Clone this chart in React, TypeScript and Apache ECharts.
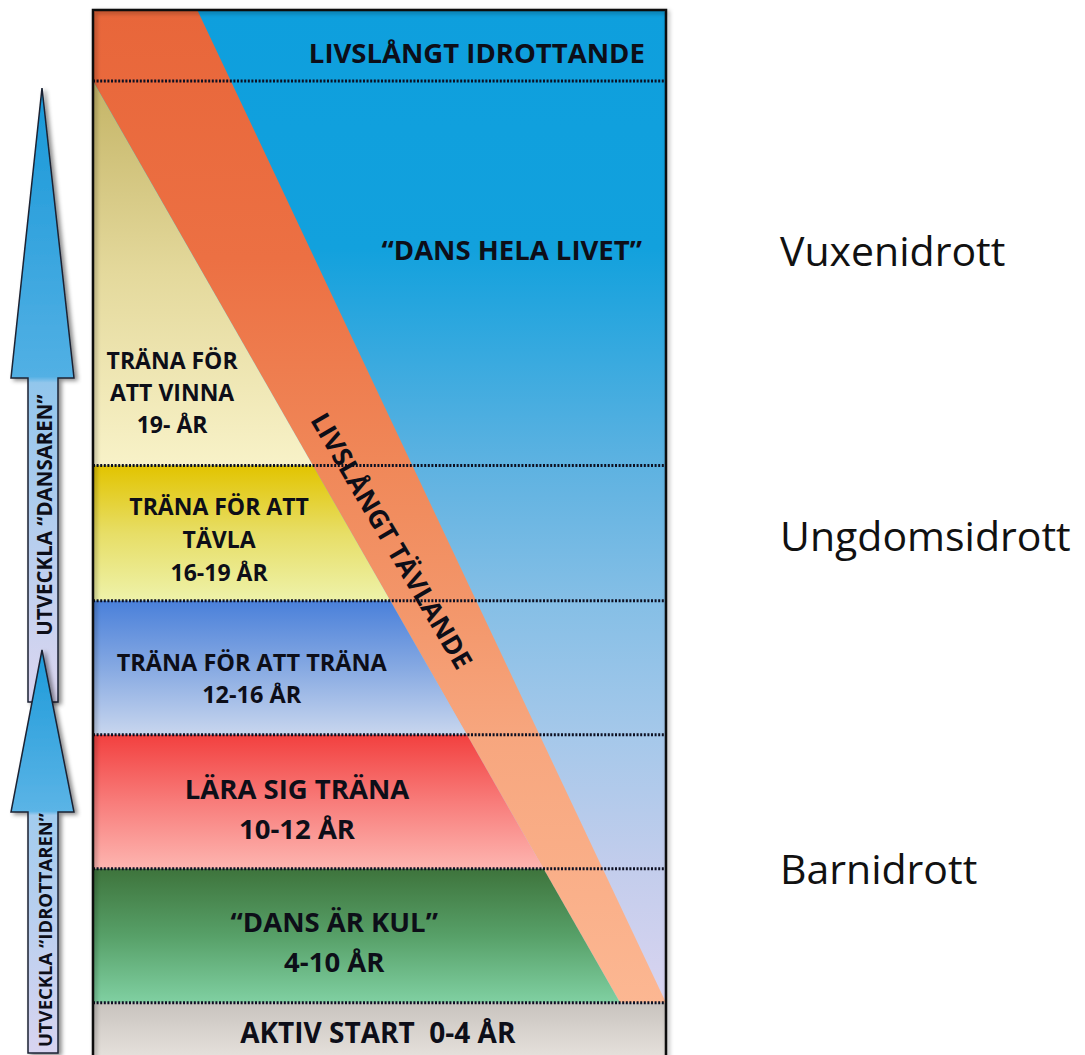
import React, { useEffect, useRef } from "react";
import * as echarts from "echarts";

// ---- Data (top → bottom) ----
const rowBounds = [0, 0.53, 3.4, 4.41, 5.41, 6.41, 7.41, 7.84]; // stage row boundaries (row units)
const stageTitles = ["TRÄNA FÖR\nATT VINNA", "TRÄNA FÖR ATT\nTÄVLA", "TRÄNA FÖR ATT TRÄNA", "LÄRA SIG TRÄNA", "“DANS ÄR KUL”", "AKTIV START\u00a0"];
const stageAges = ["19- ÅR", "16-19 ÅR", "12-16 ÅR", "10-12 ÅR", "4-10 ÅR", "0-4 ÅR"];
const topTitle = "LIVSLÅNGT IDROTTANDE";
const lifeTitle = "“DANS HELA LIVET”";
const bandTitle = "LIVSLÅNGT TÄVLANDE";
// band (percent of width): x at top right, x at bottom left / right
const bandTopRightX = 18.2;
const bandBottomLeftX = 92;
const bandBottomRightX = 100;
const groupLabels = ["Vuxenidrott", "Ungdomsidrott", "Barnidrott"];
const arrowLabels = ["UTVECKLA “DANSAREN”", "UTVECKLA “IDROTTAREN”"];

// ---- Styles / layout ----
const FONT = "'Open Sans', 'Noto Sans', sans-serif";
const TXT = "#0d0e18";
const stageGradients = [
  ["#c4b466", "#e4d99c", "#f8f2c8"],
  ["#e2c400", "#e7de66", "#eef2aa"],
  ["#4a80da", "#86a9e2", "#c8d6ee"],
  ["#f2403f", "#f87c7a", "#fdb5b0"],
  ["#3e743c", "#57a068", "#80d0a2"],
  ["#c8c3be", "#d8d3ce", "#e6e2dd"],
];
const stageLabelAnchor = [[13.8, 2.85], [22.0, 3.95], [27.7, 4.985], [35.6, 5.96], [42.1, 6.955], [49.7, 7.63]];
const stageFontSize = [23, 23, 23.5, 27.5, 27.5, 28];
const stageLineHeight = [32, 33, 32, 40, 40, 40];

const grad = (stops: string[]) =>
  new echarts.graphic.LinearGradient(0, 0, 0, 1, stops.map((c, i) => ({ offset: i / (stops.length - 1), color: c })));

function renderItem(_params: any, api: any) {
  const P = (x: number, y: number) => api.coord([x, y]);
  const yStart = rowBounds[1];
  const yEnd = rowBounds[6];
  const xl = (y: number) => (bandBottomLeftX * (y - yStart)) / (yEnd - yStart);
  const children: any[] = [];

  // background (blue, lifelong)
  children.push({
    type: "polygon",
    shape: { points: [P(0, 0), P(100, 0), P(100, yEnd), P(0, yEnd)] },
    style: {
      fill: new echarts.graphic.LinearGradient(0, 0, 0, 1, [
        { offset: 0, color: "#0e9fdd" },
        { offset: 0.24, color: "#12a1dd" },
        { offset: 0.46, color: "#5eb2e1" },
        { offset: 0.6, color: "#86bfe6" },
        { offset: 0.73, color: "#a5c8ea" },
        { offset: 0.865, color: "#c3cdec" },
        { offset: 1, color: "#d9d4f0" },
      ]),
    },
  });
  // diagonal band
  children.push({
    type: "polygon",
    shape: { points: [P(0, 0), P(bandTopRightX, 0), P(bandBottomRightX, yEnd), P(bandBottomLeftX, yEnd), P(0, yStart)] },
    style: {
      fill: new echarts.graphic.LinearGradient(0, 0, 0, 1, [
        { offset: 0, color: "#e8663a" },
        { offset: 0.25, color: "#ec7043" },
        { offset: 0.46, color: "#f08859" },
        { offset: 0.6, color: "#f3966a" },
        { offset: 0.73, color: "#f7a67e" },
        { offset: 1, color: "#fcb792" },
      ]),
    },
  });
  // stage shapes
  for (let i = 0; i < 5; i++) {
    const y0 = rowBounds[i + 1];
    const y1 = rowBounds[i + 2];
    children.push({
      type: "polygon",
      shape: { points: [P(0, y0), P(xl(y0), y0), P(xl(y1), y1), P(0, y1)] },
      style: { fill: grad(stageGradients[i]) },
    });
  }
  // bottom row
  children.push({
    type: "polygon",
    shape: { points: [P(0, rowBounds[6]), P(100, rowBounds[6]), P(100, rowBounds[7]), P(0, rowBounds[7])] },
    style: { fill: grad(stageGradients[5]) },
  });
  // dotted separators
  for (let i = 1; i <= 6; i++) {
    const a = P(0, rowBounds[i]);
    const b = P(100, rowBounds[i]);
    children.push({
      type: "line",
      shape: { x1: a[0], y1: a[1], x2: b[0], y2: b[1] },
      style: { stroke: "#0c0f22", lineWidth: 3, lineDash: [2, 1.6] },
    });
  }
  // border
  const tl = P(0, 0);
  const br = P(100, rowBounds[7]);
  children.push({
    type: "rect",
    shape: { x: tl[0], y: tl[1], width: br[0] - tl[0], height: br[1] - tl[1] + 6 },
    style: { fill: "none", stroke: "#111", lineWidth: 2.5, shadowColor: "rgba(0,0,0,0.35)", shadowBlur: 4, shadowOffsetX: 2, shadowOffsetY: 2 },
  });

  const text = (str: string, p: number[], size: number, align: string, lh: number, rot = 0) => ({
    type: "text",
    x: p[0],
    y: p[1],
    rotation: rot,
    style: {
      text: str,
      fill: TXT,
      fontFamily: FONT,
      fontWeight: "bold",
      fontSize: size,
      lineHeight: lh,
      align,
      textAlign: align,
      verticalAlign: "middle",
      textVerticalAlign: "middle",
    },
  });

  children.push(text(topTitle, P(96.3, 0.32), 27.5, "right", 30));
  children.push(text(lifeTitle, P(95.8, 1.79), 27.5, "right", 30));
  for (let i = 0; i < 6; i++) {
    const s = i < 5 ? stageTitles[i] + "\n" + stageAges[i] : stageTitles[i] + " " + stageAges[i];
    const [ax, ay] = stageLabelAnchor[i];
    children.push(text(s, P(ax, ay), stageFontSize[i], "center", stageLineHeight[i]));
  }
  children.push(text(bandTitle, P(52.2, 3.96), 26.5, "center", 30, -1.04));

  return { type: "group", children };
}

function arrow(tipY: number, baseY: number, endY: number, headFrac: number, stops: string[]) {
  const cx = 42;
  return {
    type: "polygon",
    silent: true,
    shape: {
      points: [
        [cx, tipY], [cx + 32, baseY], [cx + 16, baseY], [cx + 16, endY],
        [cx - 14, endY], [cx - 14, baseY], [cx - 31, baseY],
      ],
    },
    style: {
      fill: new echarts.graphic.LinearGradient(0, 0, 0, 1, [
        { offset: 0, color: stops[0] },
        { offset: headFrac, color: stops[1] },
        { offset: headFrac + 0.01, color: stops[2] },
        { offset: 1, color: stops[3] },
      ]),
      stroke: "#1b2233",
      lineWidth: 1.5,
      shadowColor: "rgba(0,0,0,0.45)",
      shadowBlur: 4,
      shadowOffsetX: 3,
      shadowOffsetY: 2,
    },
  };
}

export default function App() {
  const ref = useRef<HTMLDivElement>(null);
  useEffect(() => {
    document.body.style.margin = "0";
    const chart = echarts.init(ref.current!, null, { renderer: "svg" });
    const sideText = (str: string, y: number) => ({
      type: "text",
      x: 780,
      y,
      silent: true,
      style: { text: str, fill: "#111", fontFamily: FONT, fontSize: 41, align: "left", textAlign: "left", verticalAlign: "middle", textVerticalAlign: "middle" },
    });
    const arrowText = (str: string, y: number, size: number, stretch: number) => ({
      type: "text",
      x: 44,
      y,
      rotation: Math.PI / 2,
      scaleX: stretch,
      silent: true,
      z: 10,
      style: { text: str, fill: TXT, fontFamily: FONT, fontWeight: "bold", fontSize: size, align: "center", textAlign: "center", verticalAlign: "middle", textVerticalAlign: "middle" },
    });
    chart.setOption({
      animation: false,
      grid: { left: 93, top: 10, width: 573, height: 1045, containLabel: false },
      xAxis: { type: "value", min: 0, max: 100, show: false },
      yAxis: { type: "value", min: 0, max: 7.8, inverse: true, show: false },
      series: [
        {
          type: "custom",
          coordinateSystem: "cartesian2d",
          silent: true,
          clip: false,
          data: [[0, 0]],
          renderItem,
        },
      ],
      graphic: [
        arrow(88, 378, 702, 0.47, ["#1898d8", "#52b0e4", "#92c6ec", "#dcd6f0"]),
        arrow(650, 812, 1053, 0.4, ["#1c9ad9", "#5bb4e6", "#a2ccee", "#d8d4f0"]),
        arrowText(arrowLabels[0], 515, 20.5, 1.0),
        arrowText(arrowLabels[1], 930, 18.5, 1.0),
        sideText(groupLabels[0], 250),
        sideText(groupLabels[1], 535),
        sideText(groupLabels[2], 868),
      ],
    });
    return () => chart.dispose();
  }, []);
  return <div ref={ref} style={{ width: 1085, height: 1055 }} />;
}
